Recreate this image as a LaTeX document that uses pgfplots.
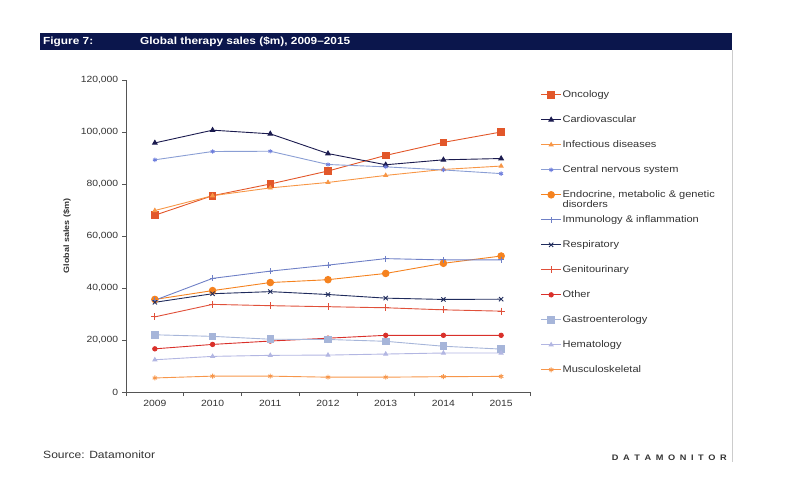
\documentclass[border=0pt]{standalone}
\usepackage{pgfplots}
\pgfplotsset{compat=1.18}
\usepackage{fontspec}
\setmainfont[FakeStretch=1.15]{Liberation Sans}
\definecolor{banner}{HTML}{0B164C}
\definecolor{onc}{HTML}{E2572A}
\definecolor{card}{HTML}{1B1B4F}
\definecolor{inf}{HTML}{F79646}
\definecolor{cns}{HTML}{8A9ED4}
\definecolor{endo}{HTML}{F5821F}
\definecolor{immu}{HTML}{6F80C6}
\definecolor{resp}{HTML}{1F2B5C}
\definecolor{geni}{HTML}{E0503A}
\definecolor{oth}{HTML}{D9302A}
\definecolor{gast}{HTML}{A6B5D9}
\definecolor{hema}{HTML}{B2B6E2}
\definecolor{musc}{HTML}{F7964A}
\definecolor{axgray}{HTML}{555555}
\definecolor{txtgray}{HTML}{333333}
\begin{document}
\begin{tikzpicture}[x=1pt,y=1pt]
\useasboundingbox (0,0) rectangle (795,499);
% banner
\fill[banner] (40,449) rectangle (732,466);
\node[anchor=west, text=white, font=\fontsize{10.3}{11}\selectfont\bfseries, inner sep=0] at (43,457.5) {Figure 7:};
\node[anchor=west, text=white, font=\fontsize{10.3}{11}\selectfont\bfseries, inner sep=0] at (140,457.5) {Global therapy sales (\$m), 2009--2015};
\draw[black!20, line width=0.8pt] (732,449) -- (732,37);
\node[anchor=west, text=txtgray, font=\fontsize{10.5}{12}\selectfont, inner sep=0] at (43,44) {Source: Datamonitor};
\node[anchor=east, text=txtgray, font=\fontsize{8}{10}\selectfont\bfseries, inner sep=0] at (727,41) {D\hspace{4.6pt}A\hspace{4.6pt}T\hspace{4.6pt}A\hspace{4.6pt}M\hspace{4.6pt}O\hspace{4.6pt}N\hspace{4.6pt}I\hspace{4.6pt}T\hspace{4.6pt}O\hspace{4.6pt}R};
\begin{axis}[
  at={(126pt,107pt)}, anchor=south west,
  scale only axis, width=404pt, height=312pt,
  xmin=-0.5, xmax=6.5, ymin=0, ymax=120000,
  axis x line*=bottom, axis y line*=left,
  axis line style={axgray, line width=0.7pt},
  xtick={0,...,6},
  xticklabels={2009,2010,2011,2012,2013,2014,2015},
  major x tick style={draw=none},
  minor xtick={-0.5,0.5,...,6.5},
  minor x tick style={axgray, line width=0.7pt},
  minor tick length=4pt,
  ytick={0,20000,...,120000},
  scaled y ticks=false,
  yticklabels={0,{20,000},{40,000},{60,000},{80,000},{100,000},{120,000}},
  y tick style={axgray, line width=0.7pt},
  major tick length=4pt,
  tick align=outside,
  tick label style={font=\fontsize{9}{11}\selectfont, text=txtgray},
  /pgf/number format/assume math mode=true,
  ylabel={Global sales (\$m)},
  every axis y label/.style={at={(-59pt,156pt)}, rotate=90, anchor=center, font=\fontsize{7.8}{9}\selectfont\bfseries, text=txtgray},
  line width=0.9pt,
  legend style={draw=none, fill=none, at={(axis description cs:1.018,0.978)}, anchor=north west,
    font=\fontsize{9.6}{11}\selectfont, text=txtgray,
    nodes={inner sep=1pt, text height=7pt, text depth=2pt},
    row sep=14pt},
  legend cell align=left,
  legend image code/.code={\draw[#1] (0pt,0pt) -- (20pt,0pt); \draw[#1, mark repeat=2, mark phase=2] plot coordinates {(0pt,0pt) (10pt,0pt) (20pt,0pt)};},
  clip=false,
]
\addplot[onc, mark=square*, mark size=3.3pt] coordinates {(0,68000)(1,75500)(2,80000)(3,85000)(4,91000)(5,96000)(6,100000)};
\addlegendentry{Oncology}
\addplot[card, mark=triangle*, mark size=2.6pt] coordinates {(0,95800)(1,100700)(2,99300)(3,91700)(4,87400)(5,89300)(6,89800)};
\addlegendentry{Cardiovascular}
\addplot[inf, mark=triangle*, mark size=2.2pt] coordinates {(0,69800)(1,75500)(2,78500)(3,80600)(4,83300)(5,85600)(6,86900)};
\addlegendentry{Infectious diseases}
\addplot[cns, mark=asterisk, mark size=2.2pt, mark options={cns!80!blue}] coordinates {(0,89300)(1,92500)(2,92600)(3,87500)(4,86600)(5,85400)(6,84000)};
\addlegendentry{Central nervous system}
\addplot[endo, mark=*, mark size=3.3pt] coordinates {(0,35600)(1,39000)(2,42100)(3,43200)(4,45600)(5,49500)(6,52300)};
\addlegendentry{\smash{\begin{tabular}[t]{@{}l@{}}Endocrine, metabolic \& genetic\\[-1pt]disorders\end{tabular}}}
\addplot[immu, mark=+, mark size=3pt] coordinates {(0,35300)(1,43700)(2,46500)(3,48800)(4,51300)(5,50800)(6,50800)};
\addlegendentry{Immunology \& inflammation}
\addplot[resp, mark=x, mark size=3pt] coordinates {(0,34500)(1,37800)(2,38600)(3,37500)(4,36100)(5,35600)(6,35700)};
\addlegendentry{Respiratory}
\addplot[geni, mark=+, mark size=3.5pt] coordinates {(0,28900)(1,33700)(2,33200)(3,32800)(4,32400)(5,31600)(6,31100)};
\addlegendentry{Genitourinary}
\addplot[oth, mark=*, mark size=2.2pt] coordinates {(0,16600)(1,18300)(2,19600)(3,20700)(4,21800)(5,21800)(6,21800)};
\addlegendentry{Other}
\addplot[gast, mark=square*, mark size=3.3pt] coordinates {(0,22000)(1,21400)(2,20300)(3,20200)(4,19500)(5,17600)(6,16500)};
\addlegendentry{Gastroenterology}
\addplot[hema, mark=triangle*, mark size=2.2pt] coordinates {(0,12400)(1,13700)(2,14100)(3,14200)(4,14600)(5,15000)(6,15000)};
\addlegendentry{Hematology}
\addplot[musc, mark=asterisk, mark size=2.5pt] coordinates {(0,5400)(1,6100)(2,6100)(3,5700)(4,5700)(5,5900)(6,6000)};
\addlegendentry{Musculoskeletal}
\end{axis}
\end{tikzpicture}
\end{document}
